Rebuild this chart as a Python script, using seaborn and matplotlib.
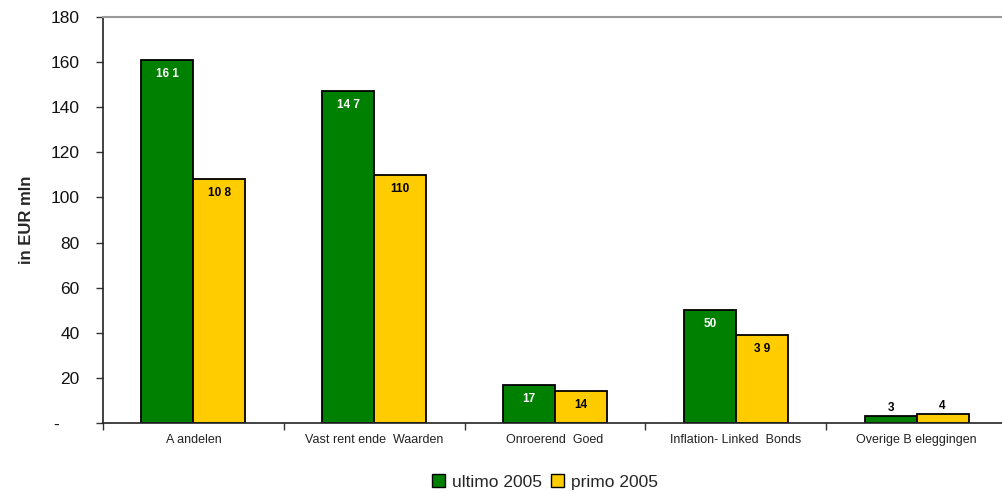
import matplotlib
matplotlib.use("Agg")
import matplotlib.pyplot as plt
import seaborn as sns
import pandas as pd
import numpy as np

categories = ["Aandelen", "Vastrentende Waarden", "Onroerend Goed",
              "Inflation-Linked Bonds", "Overige Beleggingen"]
tick_labels = ["A andelen", "Vast rent ende  Waarden", "Onroerend  Goed",
               "Inflation- Linked  Bonds", "Overige B eleggingen"]
series = ["ultimo 2005", "primo 2005"]
ultimo_2005 = [161, 147, 17, 50, 3]
primo_2005 = [108, 110, 14, 39, 4]
ultimo_labels = ["16 1", "14 7", "17", "50", "3"]
primo_labels = ["10 8", "110", "14", "3 9", "4"]
y_ticks = [0, 20, 40, 60, 80, 100, 120, 140, 160, 180]
y_tick_labels = ["-    ", "20", "40", "60", "80", "100", "120", "140", "160", "180"]

colors = {"ultimo 2005": "#008000", "primo 2005": "#FFCC00"}

df = pd.DataFrame({
    "categorie": categories * 2,
    "reeks": [series[0]] * len(categories) + [series[1]] * len(categories),
    "waarde": ultimo_2005 + primo_2005,
})

sns.set_theme(style="white")
plt.rcParams["font.family"] = ["Liberation Sans", "DejaVu Sans"]

fig = plt.figure(figsize=(10.03, 4.94), dpi=100)
ax = fig.add_axes([103 / 1003, 71 / 494, 904 / 1003, 406 / 494])

sns.barplot(data=df, x="categorie", y="waarde", hue="reeks",
            order=categories, hue_order=series, palette=colors,
            width=0.575, gap=0, edgecolor="black", linewidth=1.3,
            saturation=1, errorbar=None, ax=ax, legend=True)

ax.set_xlim(-0.5, 4.5)
ax.set_ylim(0, 180)
ax.set_yticks(y_ticks)
ax.set_yticklabels(y_tick_labels, fontsize=12.5)
ax.set_xticks(range(len(categories)))
ax.set_xticklabels(tick_labels, fontsize=9)
ax.set_xticks(np.arange(-0.5, 4.6, 1.0), minor=True)
ax.tick_params(axis="x", which="major", length=0, pad=8, colors="#222222")
ax.tick_params(axis="x", which="minor", length=5, width=1.0, direction="out",
               color="#333333", bottom=True)
ax.tick_params(axis="y", length=5, width=1.0, direction="out", left=True,
               color="#333333", pad=12, labelcolor="#111111")
ax.set_xlabel("")
ax.set_ylabel("in EUR mln", fontsize=12, fontweight="bold", labelpad=12)

for side in ["left", "bottom"]:
    ax.spines[side].set_color("#222222")
    ax.spines[side].set_linewidth(1.2)
ax.spines["top"].set_color("#999999")
ax.spines["top"].set_linewidth(1.5)
ax.spines["right"].set_visible(False)

# value labels: inside the bar near its top, above it for small bars
label_sets = [ultimo_labels, primo_labels]
text_colors = ["white", "black"]
for container, labels, tcolor in zip(ax.containers, label_sets, text_colors):
    for patch, lab in zip(container.patches, labels):
        h = patch.get_height()
        xc = patch.get_x() + patch.get_width() / 2
        if h < 10:
            ax.annotate(lab, (xc, h), xytext=(0, 8), textcoords="offset pixels",
                        ha="center", va="center", fontsize=8.5,
                        fontweight="bold", color="black")
        else:
            ax.annotate(lab, (xc, h), xytext=(0, -14), textcoords="offset pixels",
                        ha="center", va="center", fontsize=8.5,
                        fontweight="bold", color=tcolor)

leg = ax.legend(loc="center", bbox_to_anchor=(545 / 1003, 12 / 494),
                bbox_transform=fig.transFigure, ncol=2, frameon=False,
                fontsize=12.5, handlelength=0.75, handleheight=0.75,
                handletextpad=0.4, columnspacing=0.5)
for h in leg.legend_handles:
    h.set_edgecolor("black")
    h.set_linewidth(1.0)

fig.savefig("out.png", dpi=100)
